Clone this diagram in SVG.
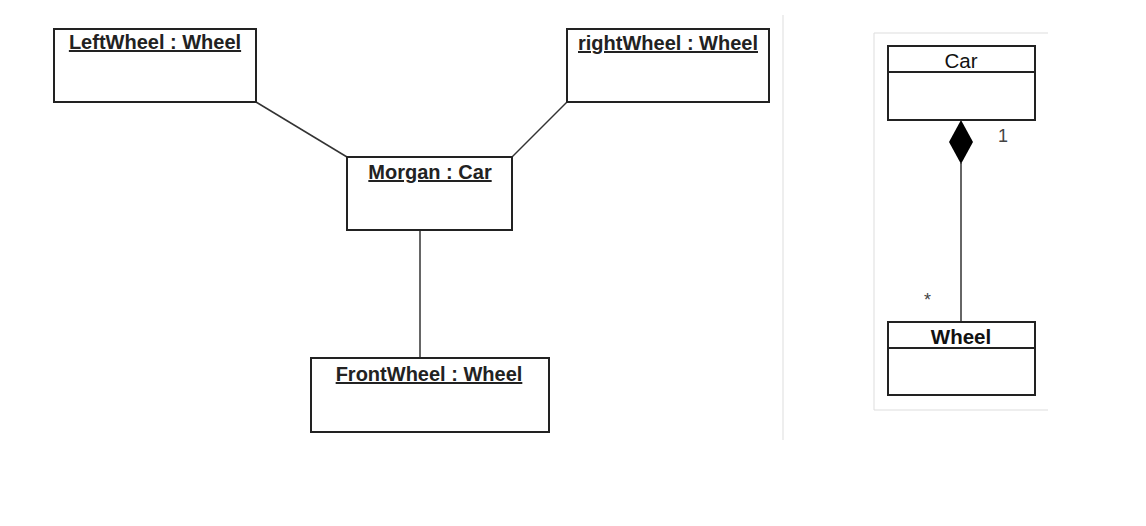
<svg xmlns="http://www.w3.org/2000/svg" width="1146" height="526" viewBox="0 0 1146 526">
<style>
.box{fill:#fff;stroke:#222;stroke-width:2}
.obj{font-family:"Liberation Sans",Arial,sans-serif;font-size:20px;fill:#222;text-decoration:underline;text-anchor:middle;font-weight:bold}
.cls{font-family:"Liberation Sans",Arial,sans-serif;font-size:20.5px;fill:#111;text-anchor:middle}
.conn{stroke:#333;stroke-width:1.5;fill:none}
.mult{font-family:"Liberation Sans",Arial,sans-serif;font-size:18px;fill:#444}
</style>
<rect width="1146" height="526" fill="#fff"/>
<line x1="783" y1="15" x2="783" y2="440" stroke="#ddd" stroke-width="1"/>
<path d="M874,410 V33 H1048" fill="none" stroke="#ddd" stroke-width="1"/>
<line x1="874" y1="410" x2="1048" y2="410" stroke="#ddd" stroke-width="1"/>
<g id="connectors">
<line class="conn" x1="256" y1="102" x2="347" y2="157"/>
<line class="conn" x1="567" y1="102" x2="512" y2="157"/>
<line class="conn" x1="420" y1="230" x2="420" y2="358"/>
<line class="conn" x1="961" y1="163" x2="961" y2="322"/>
<polygon points="961,120 973,142 961,164 949,142" fill="#000"/>
<text class="mult" x="998" y="142">1</text>
<text class="mult" x="924" y="306">*</text>
</g>
<g id="leftWheel">
<rect class="box" x="54" y="29" width="202" height="73"/>
<text class="obj" x="155" y="49">LeftWheel : Wheel</text>
</g>
<g id="rightWheel">
<rect class="box" x="567" y="29" width="202" height="73"/>
<text class="obj" x="668" y="50">rightWheel : Wheel</text>
</g>
<g id="morgan">
<rect class="box" x="347" y="157" width="165" height="73"/>
<text class="obj" x="430" y="179">Morgan : Car</text>
</g>
<g id="frontWheel">
<rect class="box" x="311" y="358" width="238" height="74"/>
<text class="obj" x="429" y="381">FrontWheel : Wheel</text>
</g>
<g id="car">
<rect class="box" x="888" y="46" width="147" height="74"/>
<line x1="888" y1="72" x2="1035" y2="72" stroke="#222" stroke-width="2"/>
<text class="cls" x="961" y="68">Car</text>
</g>
<g id="wheel">
<rect class="box" x="888" y="322" width="147" height="73"/>
<line x1="888" y1="348" x2="1035" y2="348" stroke="#222" stroke-width="2"/>
<text class="cls" x="961" y="344" font-weight="bold">Wheel</text>
</g>
</svg>
